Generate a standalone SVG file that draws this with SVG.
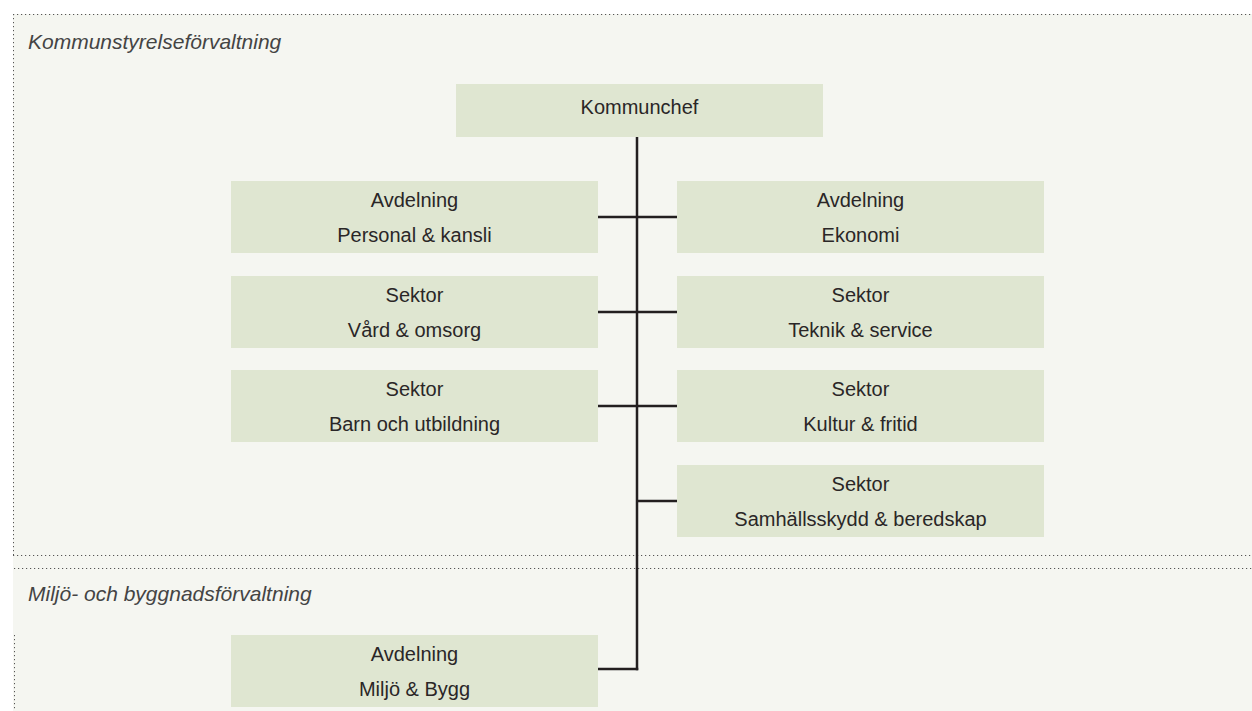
<svg xmlns="http://www.w3.org/2000/svg" width="1252" height="711" viewBox="0 0 1252 711">
  <style>
    .node { fill: #dfe6d1; }
    .ntext { font-family: "Liberation Sans", Arial, sans-serif; font-size: 20px; fill: #2a2627; text-anchor: middle; }
    .title { font-family: "Liberation Sans", Arial, sans-serif; font-size: 21px; font-style: italic; fill: #444444; }
    .dot { stroke: #555555; stroke-width: 1; stroke-dasharray: 1.2 2.8; fill: none; }
    .conn { stroke: #231f20; stroke-width: 2.5; fill: none; }
  </style>
  <rect x="0" y="0" width="1252" height="711" fill="#ffffff"/>
  <g id="panels">
    <rect x="13" y="14" width="1239" height="697" fill="#f5f6f1"/>
    <line class="dot" x1="13" y1="14.5" x2="1252" y2="14.5"/>
    <line class="dot" x1="13.5" y1="14" x2="13.5" y2="556"/>
    <line class="dot" x1="13" y1="555.5" x2="1252" y2="555.5"/>
    <line class="dot" x1="14" y1="568.5" x2="1252" y2="568.5"/>
    <line class="dot" x1="14.5" y1="635" x2="14.5" y2="711"/>
    <text class="title" x="28" y="49">Kommunstyrelseförvaltning</text>
    <text class="title" x="28" y="601">Miljö- och byggnadsförvaltning</text>
  </g>
  <g id="connectors">
    <line class="conn" x1="637" y1="137" x2="637" y2="670.25"/>
    <line class="conn" x1="598" y1="217" x2="677" y2="217"/>
    <line class="conn" x1="598" y1="312" x2="677" y2="312"/>
    <line class="conn" x1="598" y1="406" x2="677" y2="406"/>
    <line class="conn" x1="637" y1="501" x2="677" y2="501"/>
    <line class="conn" x1="598" y1="669" x2="638.25" y2="669"/>
  </g>
  <g id="kommunchef">
    <rect class="node" x="456" y="84" width="367" height="53"/>
    <text class="ntext" x="639.5" y="114">Kommunchef</text>
  </g>
  <g id="personal">
    <rect class="node" x="231" y="181" width="367" height="72"/>
    <text class="ntext" x="414.5" y="207">Avdelning</text>
    <text class="ntext" x="414.5" y="242">Personal &amp; kansli</text>
  </g>
  <g id="ekonomi">
    <rect class="node" x="677" y="181" width="367" height="72"/>
    <text class="ntext" x="860.5" y="207">Avdelning</text>
    <text class="ntext" x="860.5" y="242">Ekonomi</text>
  </g>
  <g id="vard">
    <rect class="node" x="231" y="276" width="367" height="72"/>
    <text class="ntext" x="414.5" y="302">Sektor</text>
    <text class="ntext" x="414.5" y="337">Vård &amp; omsorg</text>
  </g>
  <g id="teknik">
    <rect class="node" x="677" y="276" width="367" height="72"/>
    <text class="ntext" x="860.5" y="302">Sektor</text>
    <text class="ntext" x="860.5" y="337">Teknik &amp; service</text>
  </g>
  <g id="barn">
    <rect class="node" x="231" y="370" width="367" height="72"/>
    <text class="ntext" x="414.5" y="396">Sektor</text>
    <text class="ntext" x="414.5" y="431">Barn och utbildning</text>
  </g>
  <g id="kultur">
    <rect class="node" x="677" y="370" width="367" height="72"/>
    <text class="ntext" x="860.5" y="396">Sektor</text>
    <text class="ntext" x="860.5" y="431">Kultur &amp; fritid</text>
  </g>
  <g id="samhallsskydd">
    <rect class="node" x="677" y="465" width="367" height="72"/>
    <text class="ntext" x="860.5" y="491">Sektor</text>
    <text class="ntext" x="860.5" y="526">Samhällsskydd &amp; beredskap</text>
  </g>
  <g id="miljo">
    <rect class="node" x="231" y="635" width="367" height="72"/>
    <text class="ntext" x="414.5" y="661">Avdelning</text>
    <text class="ntext" x="414.5" y="696">Miljö &amp; Bygg</text>
  </g>
</svg>
